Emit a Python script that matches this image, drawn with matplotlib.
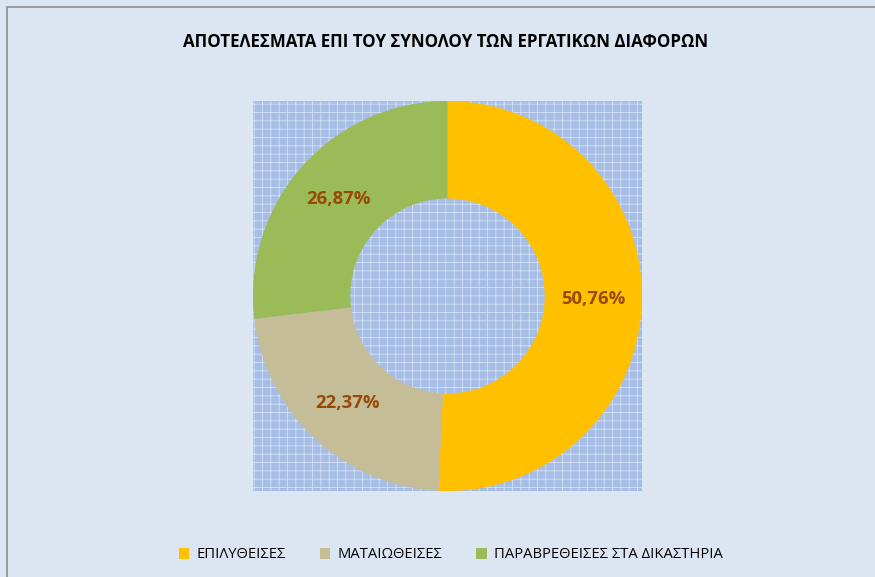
import matplotlib
matplotlib.use("Agg")
import matplotlib.pyplot as plt
from matplotlib.patches import Rectangle

# data
categories = ["ΕΠΙΛΥΘΕΙΣΕΣ", "ΜΑΤΑΙΩΘΕΙΣΕΣ", "ΠΑΡΑΒΡΕΘΕΙΣΕΣ ΣΤΑ ΔΙΚΑΣΤΗΡΙΑ"]
shares = [50.76, 22.37, 26.87]
colors = ["#FFC000", "#C4BD97", "#9BBB59"]
title = "ΑΠΟΤΕΛΕΣΜΑΤΑ ΕΠΙ ΤΟΥ ΣΥΝΟΛΟΥ ΤΩΝ ΕΡΓΑΤΙΚΩΝ ΔΙΑΦΟΡΩΝ"

plt.rcParams['font.family'] = ['Open Sans', 'DejaVu Sans']
plt.rcParams['hatch.linewidth'] = 0.6

fig = plt.figure(figsize=(8.75, 5.77), dpi=100)
fig.patch.set_facecolor('#DCE6F2')

# chart border (only top/left visible in the crop)
fig.add_artist(Rectangle((7 / 875, -0.05), 1.2, 1 - 7 / 577 + 0.05,
                         transform=fig.transFigure, fill=False,
                         edgecolor='#8C8C8C', linewidth=1.2))

ax = fig.add_axes([253 / 875, 86 / 577, 389 / 875, 390 / 577])
ax.axis('off')

# patterned plot area
ax.add_patch(Rectangle((0, 0), 1, 1, transform=ax.transAxes,
                       facecolor='#A6BEE5', hatch='++', edgecolor='#D3E0F4',
                       linewidth=0, zorder=0))

wedges, texts, autotexts = ax.pie(
    shares, colors=colors, startangle=90, counterclock=False, radius=1,
    wedgeprops=dict(width=0.5, edgecolor='none'),
    autopct=lambda p: f"{p:.2f}%".replace('.', ','), pctdistance=0.75,
    textprops=dict(color='#984807', fontsize=13.3, fontweight='bold'))
ax.set_xlim(-1, 1)
ax.set_ylim(-1, 1)
ax.set_aspect('auto')

fig.text(446 / 875, 1 - 42 / 577, title, ha='center', va='center',
         fontsize=12.2, fontweight='bold', color='black')

leg = fig.legend(wedges, categories, loc='center', ncol=3,
                 bbox_to_anchor=(451 / 875, 1 - 555 / 577), frameon=False,
                 fontsize=10.6, handlelength=0.7, handleheight=0.7,
                 columnspacing=2.3, handletextpad=0.5)

fig.savefig("out.png", dpi=100, facecolor=fig.get_facecolor())
